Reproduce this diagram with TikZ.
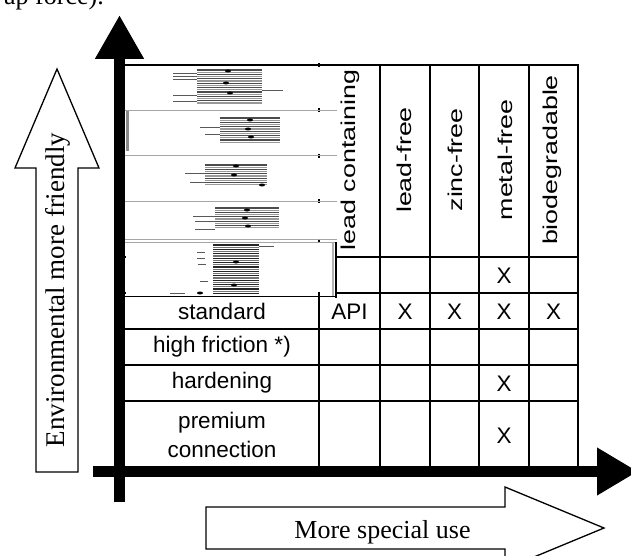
\documentclass[tikz,border=0pt]{standalone}
\usepackage{fontspec}
\setmainfont{Liberation Serif}
\newfontfamily\bodyf{Liberation Sans}
\newfontfamily\hdrf[FakeStretch=1.34]{Liberation Sans}
\usetikzlibrary{arrows.meta}
\begin{document}
\begin{tikzpicture}[x=1pt,y=-1pt,
  gridline/.style={line width=1.6pt},
  body/.style={font=\bodyf\fontsize{22.5}{29}\selectfont, inner sep=0pt, align=center},
  hdr/.style={font=\hdrf\fontsize{20}{24}\selectfont, rotate=90, inner sep=0pt},
  seriflabel/.style={font=\fontsize{26}{30}\selectfont, inner sep=0pt},
  axisline/.style={line width=11.5pt},
  hollow/.style={draw=black, line width=1.3pt, fill=white, line join=miter},
  panelsep/.style={draw=black!35, line width=1pt},
  garba/.style={draw=black!70, line width=1.2pt},
  garbb/.style={draw=black!40, line width=1.2pt},
  garbthin/.style={draw=black!65, line width=0.9pt},
  tick/.style={draw=black, line width=2pt},
]
\useasboundingbox (0,0) rectangle (631,556);
\clip (0,0) rectangle (631,556);

% cut-off text at the top
\node[seriflabel, anchor=base west] (toptext) at (4,5) {ap force).};

% ---- table grid ----
\foreach \xx in {319,380,430,479,529,578}
  \draw[gridline] (\xx,64.2) -- (\xx,472);
\foreach \yy in {65,257,293,329,365,401}
  \draw[gridline] (124,\yy) -- (578.8,\yy);

% ---- embedded (garbled) picture area ----
\fill[white] (125.5,65.9) rectangle (337,296);
\foreach \yy/\h in {65/4,110.5/4,156/4,201/4,240.5/4,293.5/4}
  \draw[tick] (319,\yy-\h/2) -- (319,\yy+\h/2);
\draw[black!45, line width=3pt] (127,110) -- (127,151);
\foreach \yy in {110.5,156,201,239}
  \draw[panelsep] (125,\yy) -- (337,\yy);
\draw[panelsep] (125,242.5) -- (337,242.5);
\draw[black!30, line width=1.5pt] (333,243) -- (333,296);
\draw[black, line width=2.5pt] (336.2,242) -- (336.2,297.5);
\draw[black, line width=1.5pt] (125,296.5) -- (337,296.5);

% panel 1
\foreach \yy in {70,74.4,...,104} \draw[garba] (197,\yy) -- (262,\yy);
\foreach \yy in {72.2,76.6,...,104} \draw[garbb] (197,\yy) -- (262,\yy);
\foreach \yy in {73,76,79,95,101} \draw[garbthin] (173,\yy) -- (197,\yy);
\draw[garbthin] (262,90) -- (283,90);
\foreach \xx/\yy in {228/71,226/83,230/93} \fill[black] (\xx,\yy) ellipse (3 and 1.5);
% panel 2
\foreach \yy in {118,122.4,...,143} \draw[garba] (220,\yy) -- (280,\yy);
\foreach \yy in {120.2,124.6,...,143} \draw[garbb] (220,\yy) -- (280,\yy);
\foreach \yy/\s in {127/200,134/205} \draw[garbthin] (\s,\yy) -- (220,\yy);
\foreach \xx/\yy in {250/120,248/129,251/137} \fill[black] (\xx,\yy) ellipse (3 and 1.5);
% panel 3
\foreach \yy in {165,169.4,...,186} \draw[garba] (205,\yy) -- (267,\yy);
\foreach \yy in {167.2,171.6,...,186} \draw[garbb] (205,\yy) -- (267,\yy);
\foreach \yy/\s in {173/185,182/190} \draw[garbthin] (\s,\yy) -- (205,\yy);
\foreach \xx/\yy in {236/166,234/175,262/185} \fill[black] (\xx,\yy) ellipse (3 and 1.5);
% panel 4
\foreach \yy in {208,212.4,...,229} \draw[garba] (215,\yy) -- (279,\yy);
\foreach \yy in {210.2,214.6,...,229} \draw[garbb] (215,\yy) -- (279,\yy);
\foreach \yy/\s in {216/193,221/195,229/195} \draw[garbthin] (\s,\yy) -- (215,\yy);
\foreach \xx/\yy in {247/210,245/218,248/226} \fill[black] (\xx,\yy) ellipse (3 and 1.5);
% panel 5
\foreach \yy in {245,249.4,...,295} \draw[garba, draw=black!85] (213,\yy) -- (259,\yy);
\foreach \yy in {247.2,251.6,...,295} \draw[garbb, draw=black!55] (213,\yy) -- (259,\yy);
\draw[garbthin] (259,246) -- (274,246);
\foreach \yy/\s in {252/197,258/197,264/198,281/200} \draw[garbthin] (\s,\yy) -- (\s+8,\yy);
\draw[garbthin] (170,293) -- (185,293);
\foreach \xx/\yy in {236/262,234/285,200/293} \fill[black] (\xx,\yy) ellipse (3 and 1.5);

% ---- header labels ----
\node[hdr] (hlead) at (350,160) {lead containing};
\node[hdr] (hleadfree) at (404,160) {lead-free};
\node[hdr] (hzinc) at (455,160) {zinc-free};
\node[hdr] (hmetal) at (505,160) {metal-free};
\node[hdr] (hbio) at (552.5,160) {biodegradable};

% ---- row labels ----
\node[body] (rstd) at (222,311) {standard};
\node[body] (rhf) at (222,347) {high friction *)};
\node[body] (rhard) at (222,383) {hardening};
\node[body] (rprem) at (222,435) {premium\\connection};

% ---- cell entries ----
\node[body] (api) at (349.5,311.5) {API};
\node[body] (xs1) at (405,312) {X};
\node[body] (xs2) at (454.5,312) {X};
\node[body] (xs3) at (504,312) {X};
\node[body] (xs4) at (553.5,312) {X};
\node[body] (xtop) at (504,276) {X};
\node[body] (xhard) at (504,384) {X};
\node[body] (xprem) at (504,436) {X};

% ---- axes ----
\coordinate (vbot) at (119.5,502);
\coordinate (vtop) at (119.5,15);
\coordinate (hleft) at (93,471.5);
\coordinate (hright) at (638,471.5);
\draw[axisline, -{Triangle[length=44pt,width=46pt]}] (vbot) -- (vtop);
\draw[axisline, -{Triangle[length=41pt,width=45pt]}] (hleft) -- (hright);

% ---- hollow arrows ----
\draw[hollow] (36,472) -- (36,168) -- (15,168) -- (57,69) -- (99,168) -- (78,168) -- (78,472) -- cycle;
\node[seriflabel, font=\fontsize{27}{30}\selectfont, rotate=90] (envtext) at (57.5,290) {Environmental more friendly};

\draw[hollow] (206,507) -- (505,507) -- (505,487) -- (604,528) -- (505,569) -- (505,549) -- (206,549) -- cycle;
\node[seriflabel, anchor=base] (spectext) at (382.5,538) {More special use};
\end{tikzpicture}
\end{document}
